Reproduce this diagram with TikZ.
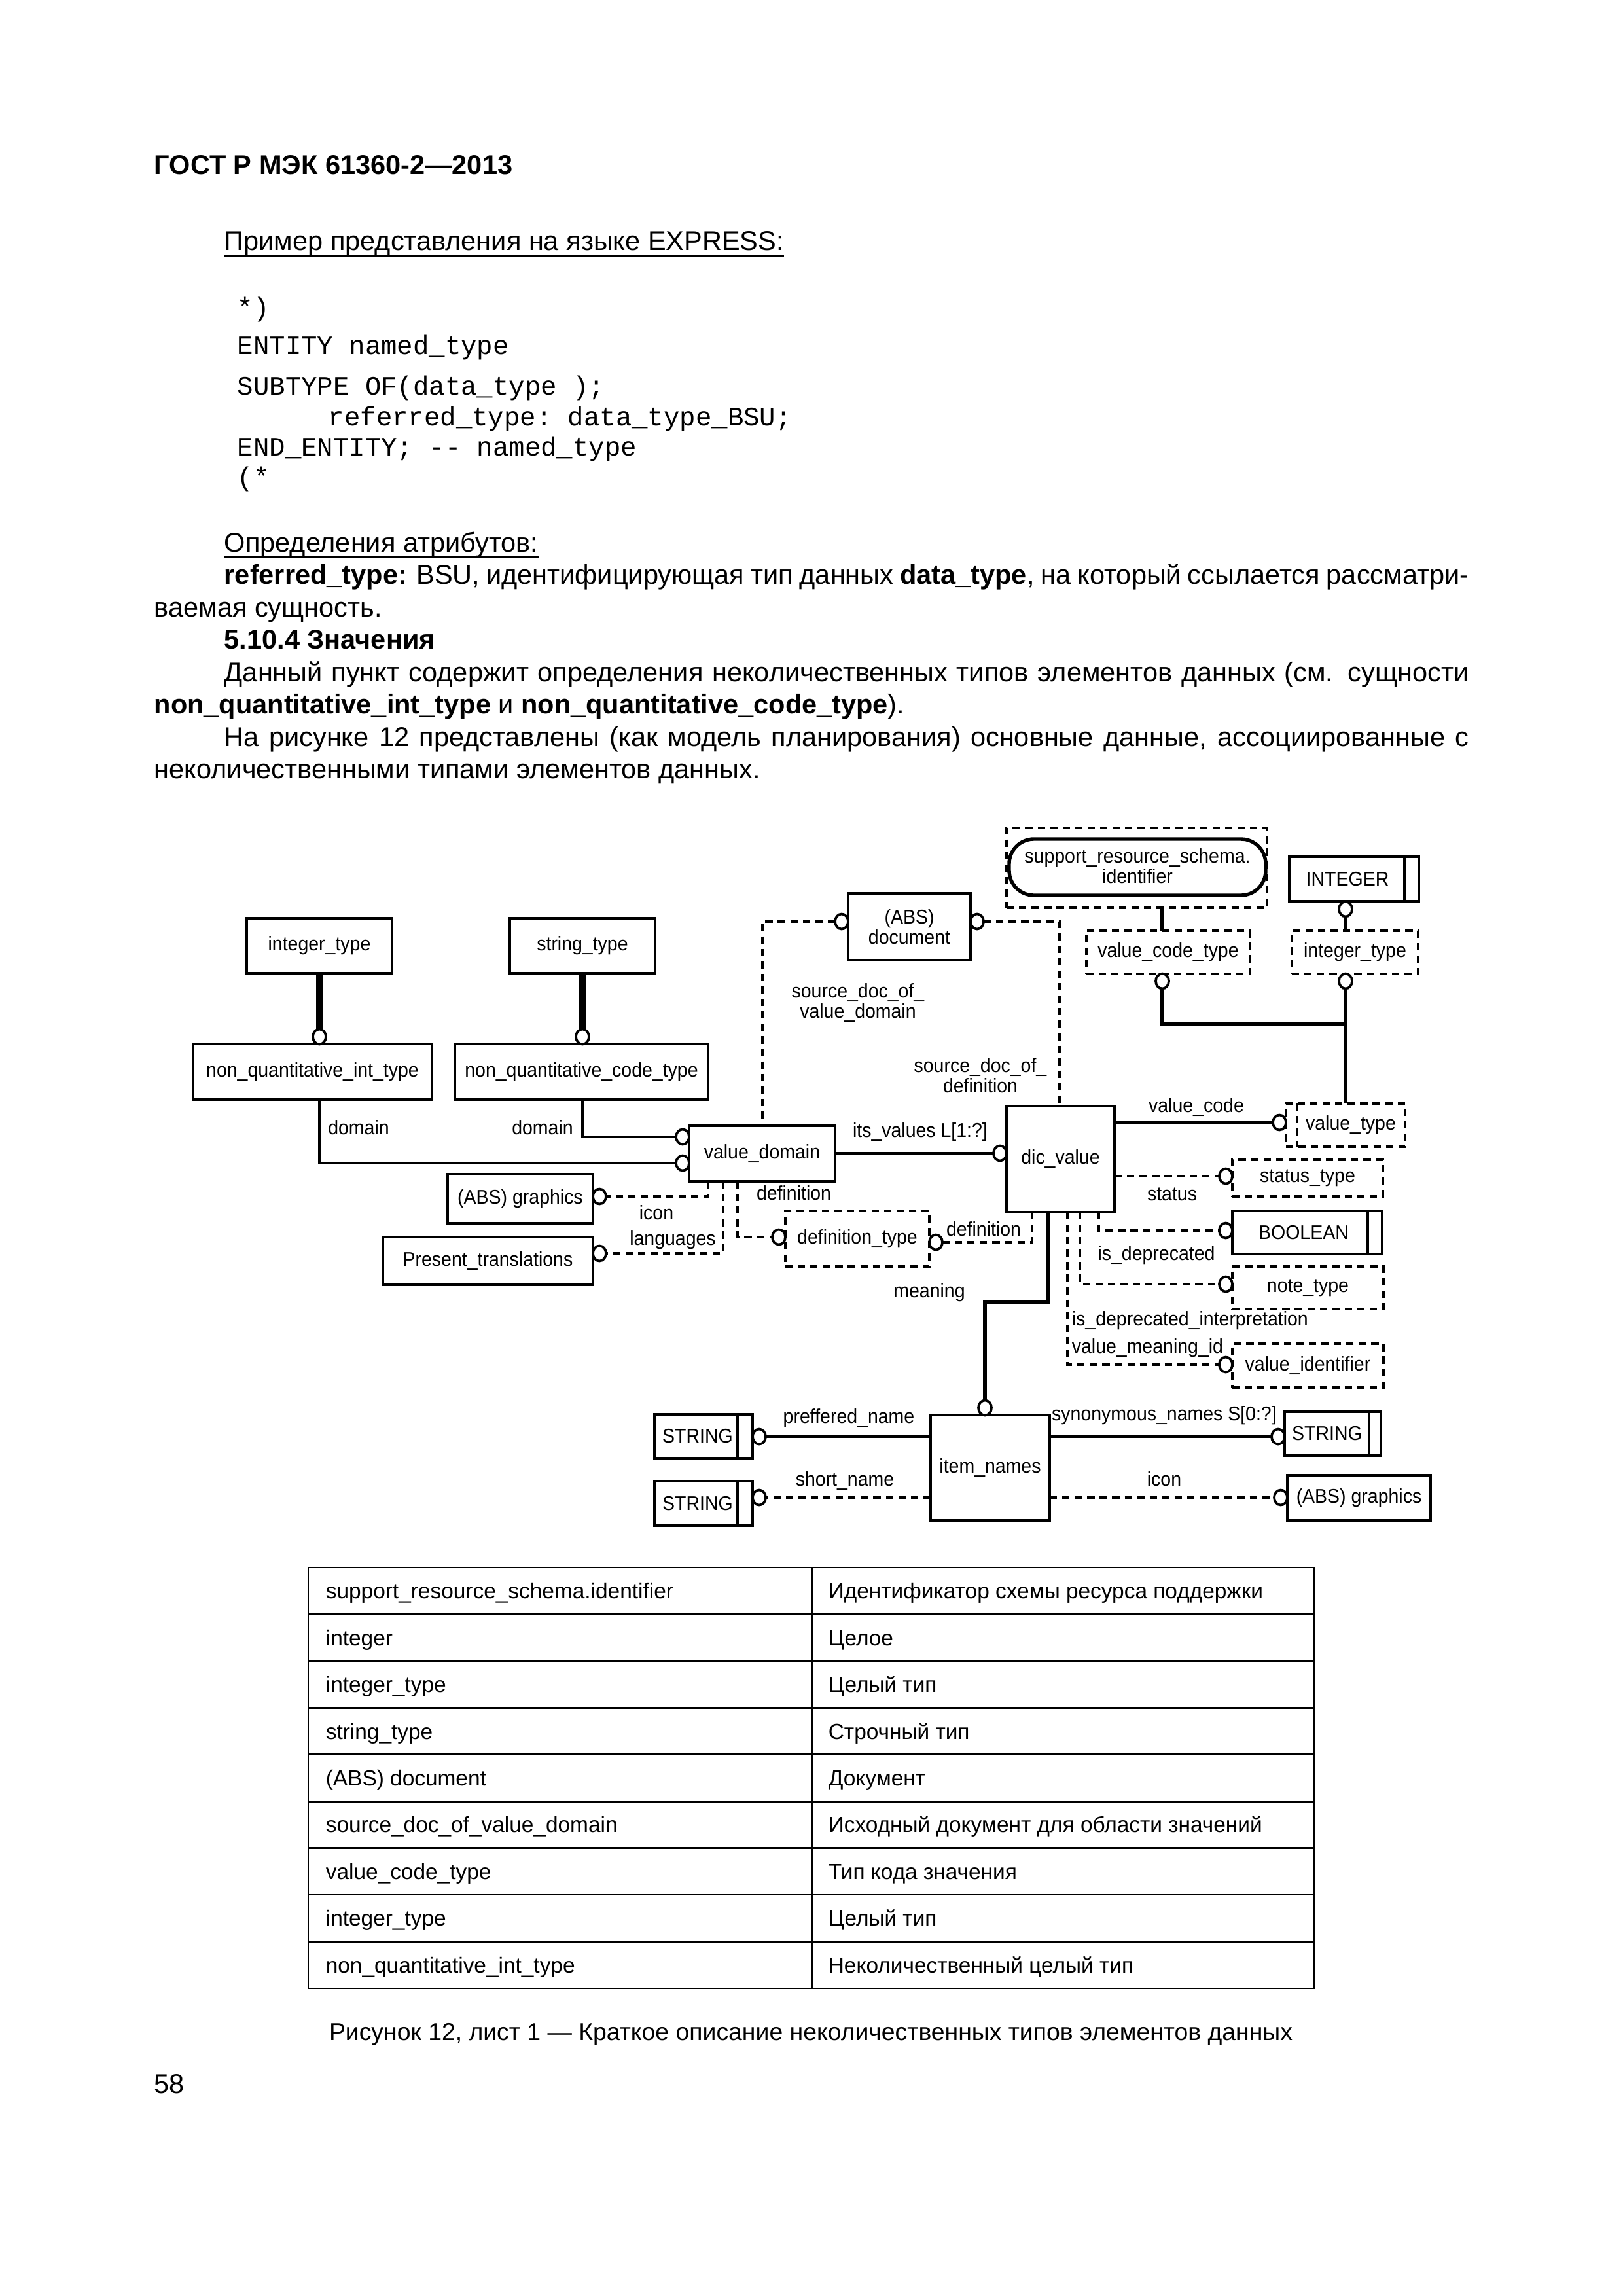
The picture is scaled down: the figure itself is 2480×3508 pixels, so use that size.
\documentclass[tikz,border=0pt]{standalone}
\usepackage{fontspec}
\setmainfont{Liberation Sans}
\setmonofont{Liberation Mono}
\newfontfamily\dfam[FakeStretch=0.94]{Liberation Sans}
\usetikzlibrary{shapes.geometric}
\newcommand\pxu{0.0846774mm}
\newcommand\dfont{\dfam\fontsize{7.3}{7.4}\selectfont}
\newcommand\bodyf{\fontsize{10}{12}\selectfont}
\newcommand\tabf{\fontsize{8.05}{10}\selectfont}
\newcommand\myul[1]{\setbox0\hbox{#1}\rlap{\rule[-2.4pt]{\wd0}{0.8pt}}\box0}
\tikzset{
 bx/.style 2 args={draw, line width=1.1pt, inner sep=0pt, outer sep=0pt, minimum width=#1*\pxu, minimum height=#2*\pxu, font=\dfont, align=center},
 dsh/.style={dash pattern=on 2.7pt off 1.9pt},
 dbx/.style 2 args={bx={#1}{#2}, dsh, line width=1pt},
 ring/.style={draw, ellipse, fill=white, line width=0.9pt, inner sep=0pt, outer sep=0pt, minimum width=20*\pxu, minimum height=23*\pxu},
 ln/.style={line width=1pt},
 dln/.style={line width=1pt, dsh},
 thk/.style={line width=2.2pt},
 med/.style={line width=1.6pt},
 lbl/.style={inner sep=0pt, font=\dfont, align=center},
 txt/.style={inner sep=0pt, anchor=base west, font=\bodyf},
 codel/.style={inner sep=0pt, anchor=base west, font=\ttfamily\fontsize{9.8}{12}\selectfont},
 tcell/.style={inner sep=0pt, anchor=base west, font=\tabf},
}
\begin{document}
\begin{tikzpicture}[x=\pxu, y=-\pxu]
\useasboundingbox[fill=white] (0,0) rectangle (2480,3508);

% ---------- text above ----------
\node[txt, font=\bodyf\bfseries] (hdr) at (235,266) {ГОСТ Р МЭК 61360-2—2013};
\node[txt] (t1) at (342,382) {\myul{Пример представления на языке EXPRESS:}};
\node[codel] (c1) at (362,483) {*)};
\node[codel] (c2) at (362,541) {ENTITY named\_type};
\node[codel] (c3) at (362,603) {SUBTYPE OF(data\_type );};
\node[codel] (c4) at (501,650) {referred\_type: data\_type\_BSU;};
\node[codel] (c5) at (362,696) {END\_ENTITY; -- named\_type};
\node[codel] (c6) at (362,742) {(*};
\node[txt] (t2) at (342,843) {\myul{Определения атрибутов:}};
\node[txt] (t3) at (342,892) {\makebox[161mm][s]{\textbf{referred\_type:} BSU, идентифицирующая тип данных \textbf{data\_type}, на который ссылается рассматри-}};
\node[txt] (t4) at (235,942) {ваемая сущность.};
\node[txt] (t5) at (342,991) {\textbf{5.10.4 Значения}};
\node[txt] (t6) at (342,1041) {\makebox[161mm][s]{Данный пункт содержит определения неколичественных типов элементов данных (см. сущности}};
\node[txt] (t7) at (235,1090) {\textbf{non\_quantitative\_int\_type} и \textbf{non\_quantitative\_code\_type}).};
\node[txt] (t8) at (342,1140) {\makebox[161mm][s]{На рисунке 12 представлены (как модель планирования) основные данные, ассоциированные с}};
\node[txt] (t9) at (235,1189) {неколичественными типами элементов данных.};

% ---------- diagram boxes ----------
\node[bx={222}{84}] (intt) at (488,1445) {integer\_type};
\node[bx={222}{84}] (strt) at (890,1445) {string\_type};
\node[bx={365}{85}] (nqi) at (477.5,1637.5) {non\_quantitative\_int\_type};
\node[bx={387}{85}] (nqc) at (888.5,1637.5) {non\_quantitative\_code\_type};
\node[bx={187}{102}] (doc) at (1389.5,1416) {(ABS)\\document};
\node[dbx={398}{122}] (srs) at (1737,1326) {};
\draw[line width=1.3pt, rounded corners=3.2mm] ([shift={(4,17)}]srs.north west) rectangle ([shift={(-2,-19)}]srs.south east);
\node[lbl] (srst) at (1738,1323) {support\_resource\_schema.\\identifier};
\node[bx={198}{68}] (INT) at (2069,1343) {};
\draw[line width=1.1pt] ([xshift=-22*\pxu]INT.north east) -- ([xshift=-22*\pxu]INT.south east);
\node[lbl] (INTt) at (2059,1343) {INTEGER};
\node[dbx={250}{66}] (vct) at (1785,1455) {value\_code\_type};
\node[dbx={193}{66}] (it2) at (2070.5,1455) {integer\_type};
\node[bx={223}{85}] (vd) at (1164.5,1762.5) {value\_domain};
\node[bx={165}{162}] (dv) at (1620.5,1771) {dic\_value};
\node[dbx={182}{66}] (vt) at (2056,1719) {};
\draw[dln] ([xshift=17*\pxu]vt.north west) -- ([xshift=17*\pxu]vt.south west);
\node[lbl] (vtt) at (2064,1719) {value\_type};
\node[dbx={230}{57}] (st) at (1998,1800) {status\_type};
\node[bx={229}{66}] (bool) at (1997.5,1883) {};
\draw[line width=1.1pt] ([xshift=-22*\pxu]bool.north east) -- ([xshift=-22*\pxu]bool.south east);
\node[lbl] (boolt) at (1992,1883) {BOOLEAN};
\node[dbx={220}{85}] (dt) at (1310,1892.5) {definition\_type};
\node[dbx={231}{65}] (nt) at (1998.5,1967.5) {note\_type};
\node[dbx={231}{67}] (vi) at (1998.5,2086.5) {value\_identifier};
\node[bx={222}{75}] (gr1) at (795,1831.5) {(ABS) graphics};
\node[bx={321}{73}] (pt) at (745.5,1926.5) {Present\_translations};
\node[bx={182}{161}] (itn) at (1513,2242.5) {item\_names};
\node[bx={150}{67}] (s1) at (1075,2194.5) {};
\draw[line width=1.1pt] ([xshift=-23*\pxu]s1.north east) -- ([xshift=-23*\pxu]s1.south east);
\node[lbl] (s1t) at (1066,2194) {STRING};
\node[bx={150}{68}] (s2) at (1075,2297) {};
\draw[line width=1.1pt] ([xshift=-23*\pxu]s2.north east) -- ([xshift=-23*\pxu]s2.south east);
\node[lbl] (s2t) at (1066,2297) {STRING};
\node[bx={147}{67}] (s3) at (2036.5,2190.5) {};
\draw[line width=1.1pt] ([xshift=-18*\pxu]s3.north east) -- ([xshift=-18*\pxu]s3.south east);
\node[lbl] (s3t) at (2028,2190) {STRING};
\node[bx={219}{69}] (gr2) at (2076.5,2288.5) {(ABS) graphics};

% ---------- rings ----------
\node[ring] (ca1) at (488,1584) {};
\node[ring] (ca2) at (890,1584) {};
\node[ring] (cd1) at (1043,1777) {};
\node[ring] (cd2) at (1043,1737) {};
\node[ring] (cdocL) at (1286,1408) {};
\node[ring] (cdocR) at (1493,1408) {};
\node[ring] (civ) at (1528,1762) {};
\node[ring] (ccode) at (1955,1715) {};
\node[ring] (cstat) at (1873,1797) {};
\node[ring] (cbool) at (1873,1880) {};
\node[ring] (cnote) at (1873,1962) {};
\node[ring] (cvid) at (1873,2085) {};
\node[ring] (cdt1) at (1430,1898) {};
\node[ring] (cdt2) at (1190,1890) {};
\node[ring] (cicon) at (916,1828) {};
\node[ring] (clang) at (916,1915) {};
\node[ring] (cint) at (2056,1389) {};
\node[ring] (cvct) at (1776,1499) {};
\node[ring] (cit2) at (2056,1499) {};
\node[ring] (cmean) at (1505,2151) {};
\node[ring] (cpn) at (1160,2195) {};
\node[ring] (csn) at (1160,2288) {};
\node[ring] (csyn) at (1953,2195) {};
\node[ring] (cic2) at (1957,2288) {};

% ---------- helper coordinates ----------
\coordinate (jn) at (2056,1565);
\coordinate (x1) at (1165,1408);
\coordinate (x2) at (1619,1408);
\coordinate (b1) at (1679,1880);
\coordinate (b2) at (1650,1962);
\coordinate (b3) at (1631,2085);
\coordinate (b4) at (1577,1898);
\coordinate (b5) at (1127,1890);
\coordinate (b6) at (1082,1828);
\coordinate (b7) at (1105,1915);
\coordinate (m1) at (1602,1990);
\coordinate (m2) at (1505,1990);

% ---------- connectors ----------
\draw[thk] (intt.south -| ca1) -- (ca1);
\draw[thk] (strt.south -| ca2) -- (ca2);
\draw[ln] (cd1) -| (nqi.south -| ca1);
\draw[ln] (cd2) -| (nqc.south -| ca2);
\draw[med] (srs.south -| cvct) -- (vct.north -| cvct);
\draw[med] (cint) -- (it2.north -| cint);
\draw[med] (cvct) |- (jn);
\draw[med] (cit2) -- (vt.north -| cit2);
\draw[dln] (cdocL) -- (x1) -- (vd.north -| x1);
\draw[dln] (cdocR) -- (x2) -- (dv.north -| x2);
\draw[ln] (vd.east |- civ) -- (civ);
\draw[ln] (dv.east |- ccode) -- (ccode);
\draw[dln] (dv.east |- cstat) -- (cstat);
\draw[dln] (dv.south -| b1) -- (b1) -- (cbool);
\draw[dln] (dv.south -| b2) -- (b2) -- (cnote);
\draw[dln] (dv.south -| b3) -- (b3) -- (cvid);
\draw[dln] (dv.south -| b4) -- (b4) -- (cdt1);
\draw[dln] (vd.south -| b5) -- (b5) -- (cdt2);
\draw[dln] (vd.south -| b6) -- (b6) -- (cicon);
\draw[dln] (vd.south -| b7) -- (b7) -- (clang);
\draw[med] (dv.south -| m1) -- (m1) -- (m2) -- (cmean);
\draw[ln] (itn.west |- cpn) -- (cpn);
\draw[dln] (itn.west |- csn) -- (csn);
\draw[ln] (itn.east |- csyn) -- (csyn);
\draw[dln] (itn.east |- cic2) -- (cic2);

% ---------- labels ----------
\node[lbl] (l1) at (548,1723) {domain};
\node[lbl] (l2) at (829,1723) {domain};
\node[lbl] (l3) at (1311,1532) {source\_doc\_of\_\\value\_domain};
\node[lbl] (l4) at (1498,1643) {source\_doc\_of\_\\definition};
\node[lbl] (l5) at (1406,1730) {its\_values L[1:?]};
\node[lbl] (l6) at (1828,1692) {value\_code};
\node[lbl] (l7) at (1791,1825) {status};
\node[lbl] (l8) at (1767,1918) {is\_deprecated};
\node[lbl, anchor=west] (l9) at (1637,2018) {is\_deprecated\_interpretation};
\node[lbl, anchor=west] (l10) at (1637,2060) {value\_meaning\_id};
\node[lbl] (l11) at (1503,1878) {definition};
\node[lbl] (l12) at (1213,1823) {definition};
\node[lbl] (l13) at (1420,1975) {meaning};
\node[lbl] (l14) at (1003,1853) {icon};
\node[lbl] (l15) at (1028,1895) {languages};
\node[lbl] (l16) at (1297,2167) {preffered\_name};
\node[lbl] (l17) at (1291,2263) {short\_name};
\node[lbl] (l18) at (1779,2163) {synonymous\_names S[0:?]};
\node[lbl] (l19) at (1779,2260) {icon};

% ---------- table ----------
\draw[line width=0.65pt] (471,2395) rectangle (2008,3038);
\draw[line width=0.65pt] (1241,2395) -- (1241,3038);
\foreach \k in {1,...,8} \draw[line width=0.65pt] (471,{2395+71.44*\k}) -- (2008,{2395+71.44*\k});
\foreach \a/\b [count=\i] in {support\_resource\_schema.identifier/Идентификатор схемы ресурса поддержки,
  integer/Целое, integer\_type/Целый тип, string\_type/Строчный тип, (ABS) document/Документ,
  source\_doc\_of\_value\_domain/Исходный документ для области значений, value\_code\_type/Тип кода значения,
  integer\_type/Целый тип, non\_quantitative\_int\_type/Неколичественный целый тип}
{
  \node[tcell] (ta\i) at (497,{2395+71.44*(\i-0.5)+12}) {\a};
  \node[tcell] (tb\i) at (1265,{2395+71.44*(\i-0.5)+12}) {\b};
}

\node[inner sep=0pt, anchor=base, font=\fontsize{9}{11}\selectfont] (cap) at (1239,3117) {Рисунок 12, лист 1 — Краткое описание неколичественных типов элементов данных};
\node[txt] (pg) at (235,3198) {58};
\end{tikzpicture}
\end{document}
